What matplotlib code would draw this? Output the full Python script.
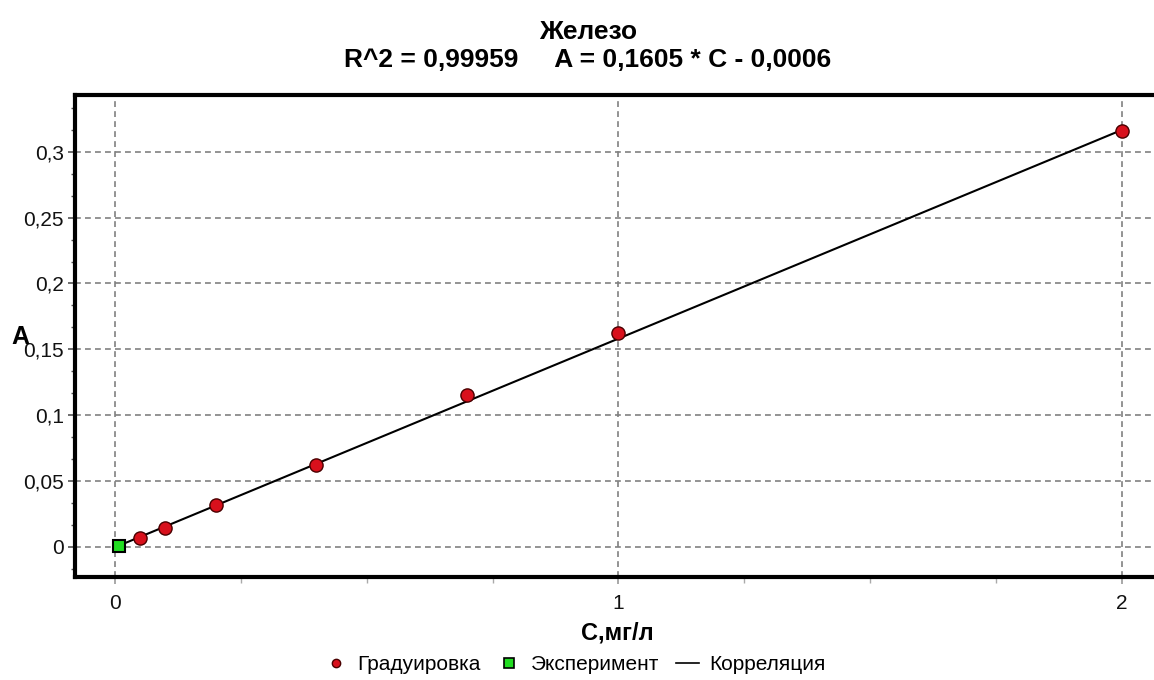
import matplotlib
matplotlib.use("Agg")
import matplotlib.pyplot as plt
from matplotlib.ticker import MultipleLocator, FuncFormatter
from matplotlib.lines import Line2D

plt.rcParams['font.family'] = ['Liberation Sans', 'DejaVu Sans']

# Data
calib_c = [0.05, 0.1, 0.2, 0.4, 0.7, 1.0, 2.0]
calib_a = [0.0068, 0.0144, 0.0317, 0.0621, 0.1153, 0.1626, 0.3160]
exp_c = [0.007]
exp_a = [0.0005]
corr_c = [0.0, 2.0]
corr_a = [-0.0004, 0.3166]

title_line1 = "Железо"
title_line2 = "R^2 = 0,99959     A = 0,1605 * C - 0,0006"
xlabel = "C,мг/л"
ylabel = "A"
legend_labels = ["Градуировка", "Эксперимент", "Корреляция"]

W, H = 1154, 680
fig = plt.figure(figsize=(W / 100, H / 100), dpi=100)

# axes in pixel coordinates (right edge extends beyond the figure)
left_px, right_px, top_px, bottom_px = 75, 1172, 95, 577
ax = fig.add_axes([left_px / W, 1 - bottom_px / H,
                   (right_px - left_px) / W, (bottom_px - top_px) / H])
ax.set_xlim(-0.0795, 2.1)
ax.set_ylim(-0.023, 0.3432)

# grid
ax.grid(True, which='major', color='#808080', linestyle=(0, (3.5, 2.5)), linewidth=1.2)
ax.set_axisbelow(True)

# correlation line
ax.plot(corr_c, corr_a, color='black', linewidth=1.5, zorder=3)
# calibration points
ax.plot(calib_c, calib_a, linestyle='none', marker='o', markersize=9.5,
        markerfacecolor='#d8101c', markeredgecolor='#4a0000', markeredgewidth=1.0, zorder=4)
# experiment
ax.plot(exp_c, exp_a, linestyle='none', marker='s', markersize=9,
        markerfacecolor='#22dd22', markeredgecolor='black', markeredgewidth=1.5, zorder=5)

# spines
for s in ['left', 'top', 'bottom']:
    ax.spines[s].set_linewidth(3)
    ax.spines[s].set_color('black')
ax.spines['right'].set_visible(False)

# ticks
ax.xaxis.set_major_locator(MultipleLocator(1))
ax.xaxis.set_minor_locator(MultipleLocator(0.25))
ax.yaxis.set_major_locator(MultipleLocator(0.05))
ax.yaxis.set_minor_locator(MultipleLocator(0.05 / 3))

def fmt(v, pos):
    s = f"{v:.2f}".rstrip('0').rstrip('.')
    if s in ('-0',):
        s = '0'
    return s.replace('.', ',')

ax.xaxis.set_major_formatter(FuncFormatter(fmt))
ax.yaxis.set_major_formatter(FuncFormatter(fmt))

ax.tick_params(axis='y', which='major', length=5, width=1.2, color='#555555',
               labelsize=15, pad=3, labelcolor='#111111')
ax.tick_params(axis='y', which='minor', length=3, width=1.0, color='#555555')
ax.tick_params(axis='x', which='major', length=5, width=1.2, color='#999999',
               labelsize=15, pad=7, labelcolor='#111111')
ax.tick_params(axis='x', which='minor', length=4, width=1.0, color='#aaaaaa')

# titles and labels
fig.text(588 / W, 1 - 32 / H, title_line1, ha='center', va='center',
         fontsize=19, fontweight='bold')
fig.text(588 / W, 1 - 60 / H, title_line2, ha='center', va='center',
         fontsize=19, fontweight='bold')
fig.text(617 / W, 1 - 633 / H, xlabel, ha='center', va='center',
         fontsize=17, fontweight='bold')
fig.text(20 / W, 1 - 337 / H, ylabel, ha='center', va='center',
         fontsize=18, fontweight='bold')

handles = [
    Line2D([], [], linestyle='none', marker='o', markersize=6,
           markerfacecolor='#d8101c', markeredgecolor='#4a0000'),
    Line2D([], [], linestyle='none', marker='s', markersize=7,
           markerfacecolor='#22dd22', markeredgecolor='black', markeredgewidth=1.2),
    Line2D([], [], color='black', linewidth=1.2),
]
fig.legend(handles, legend_labels, loc='center', bbox_to_anchor=(575 / W, 1 - 665 / H),
           ncol=3, frameon=False, fontsize=15, handlelength=1.1, handletextpad=0.5,
           columnspacing=0.8, borderpad=0)

fig.savefig("out.png", dpi=100)
